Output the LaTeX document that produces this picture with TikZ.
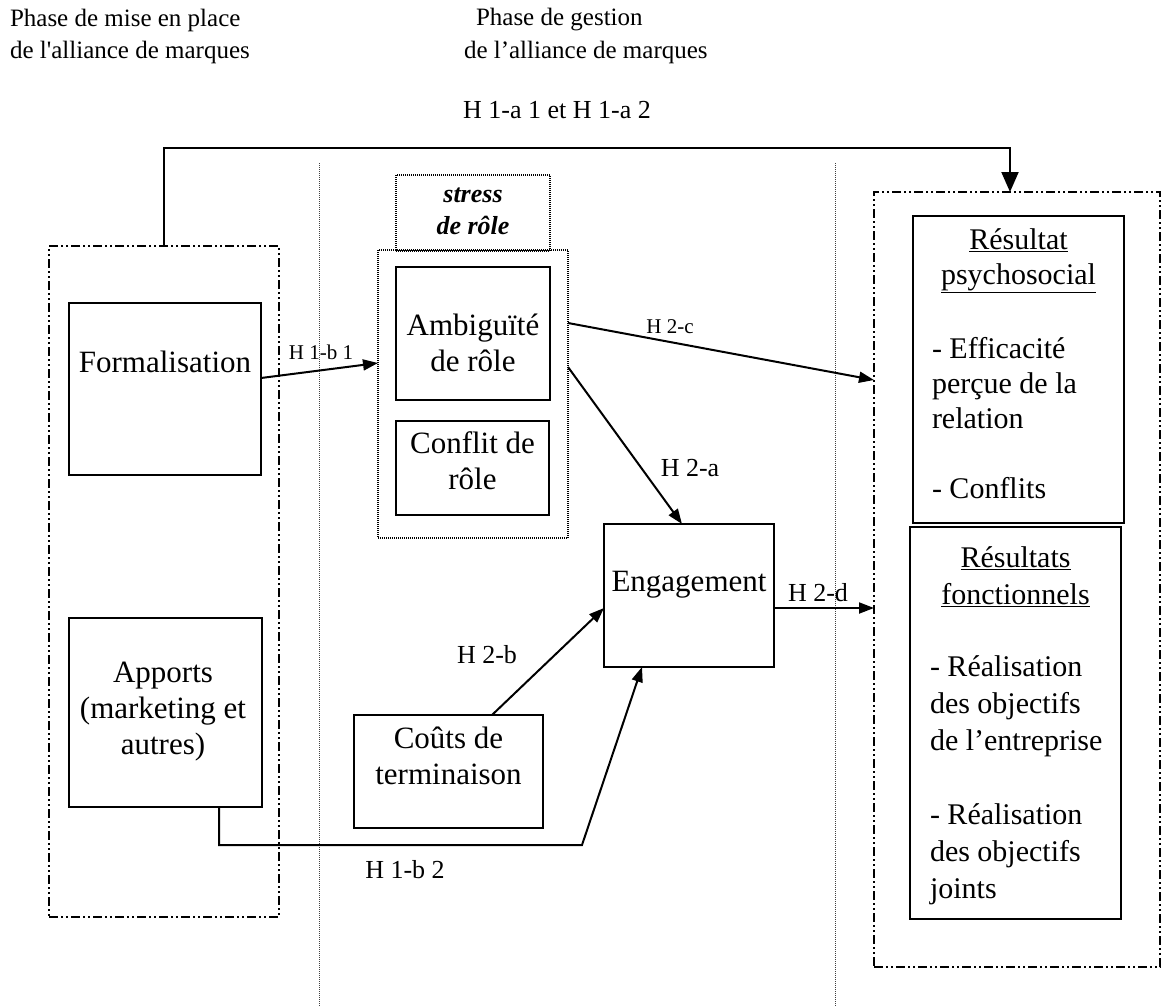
\documentclass[tikz,border=0pt]{standalone}
\usepackage{fontspec}
\setmainfont{Liberation Serif}
\usetikzlibrary{arrows.meta}

\begin{document}
\begin{tikzpicture}[x=1pt,y=-1pt,
  every node/.style={inner sep=0pt, outer sep=0pt},
  thickbox/.style={draw, rectangle, line width=2.6pt},
  thinbox/.style={draw, rectangle, line width=1.6pt},
  groupbox/.style={draw, rectangle, line width=2pt,
    dash pattern=on 9pt off 3pt on 2pt off 3pt on 2pt off 3pt},
  dotbox/.style={draw, rectangle, line width=1.1pt, dash pattern=on 1pt off 1pt},
  divider/.style={line width=1pt, dash pattern=on 1pt off 1pt, black!75},
  link/.style={line width=2pt, -{Triangle[length=15pt,width=11pt]}},
  bigarrow/.style={line width=2pt, -{Triangle[length=20pt,width=17pt]}},
  phasetxt/.style={font=\fontsize{25}{30}\selectfont},
  body/.style={font=\fontsize{31}{36}\selectfont, align=center},
  rbody/.style={font=\fontsize{30}{35}\selectfont},
  rbodyb/.style={font=\fontsize{30}{37}\selectfont},
  stresstxt/.style={font=\fontsize{26}{32}\selectfont\bfseries\itshape, align=center},
  lbl/.style={font=\fontsize{26}{30}\selectfont},
  smalllbl/.style={font=\fontsize{21}{24}\selectfont}
]
\useasboundingbox (0,0) rectangle (1168,1007);
\fill[white] (0,0) rectangle (1168,1007);

% phase headings
\node[phasetxt, anchor=west] (ph1a) at (10,20) {Phase de mise en place};
\node[phasetxt, anchor=west] (ph1b) at (10,52) {de l\textquotesingle alliance de marques};
\node[phasetxt, anchor=west] (ph2a) at (476,20) {Phase de gestion};
\node[phasetxt, anchor=west] (ph2b) at (464,52) {de l'alliance de marques};

% dotted phase dividers
\coordinate (d1top) at (319,163);
\coordinate (d1bot) at (319,1007);
\coordinate (d2top) at (835,163);
\coordinate (d2bot) at (835,1007);
\draw[divider] (d1top) -- (d1bot);
\draw[divider] (d2top) -- (d2bot);

% left group: set-up phase
\node[groupbox, minimum width=230pt, minimum height=671pt] (leftgrp) at (164,581.5) {};
\node[thickbox, minimum width=192pt, minimum height=172pt] (form) at (165,389) {};
\node[body] (formtxt) at (165,362) {Formalisation};
\node[thickbox, minimum width=193pt, minimum height=189pt] (apports) at (165.5,712.5) {};
\node[body] (apptxt) at (163,712) {Apports\\(marketing et\\autres)};

% role stress
\node[dotbox, minimum width=154pt, minimum height=76pt] (stress) at (473,213) {};
\node[stresstxt] (stresslbl) at (473,211) {stress\\de rôle};
\node[dotbox, minimum width=190pt, minimum height=288pt] (roles) at (473,394) {};
\node[thickbox, minimum width=154pt, minimum height=133pt] (ambig) at (473,333.5) {};
\node[body] (ambtxt) at (473,343) {Ambiguïté\\de rôle};
\node[thinbox, minimum width=153pt, minimum height=94pt] (conflit) at (472.5,468) {};
\node[body] (conftxt) at (472.5,461) {Conflit de\\rôle};

% engagement and termination costs
\node[thinbox, minimum width=170pt, minimum height=143pt] (eng) at (689,595.5) {};
\node[body] (engtxt) at (689,585) {Engagement};
\node[thickbox, minimum width=189pt, minimum height=113pt] (couts) at (448.5,771.5) {};
\node[body] (coutstxt) at (448.5,756) {Coûts de\\terminaison};

% right group: outcomes
\node[groupbox, minimum width=286pt, minimum height=775pt] (rightgrp) at (1017,579.5) {};
\node[thickbox, minimum width=211pt, minimum height=307pt] (res1) at (1018.5,369.5) {};
\node[rbody, align=center] (res1t) at (1018.5,261) {\underline{Résultat}\\\underline{psychosocial}};
\node[rbody, align=left, anchor=west] (res1a) at (932,383) {- Efficacité\\perçue de la\\relation};
\node[rbody, anchor=west] (res1b) at (932,488) {- Conflits};
\node[thickbox, minimum width=211pt, minimum height=392pt] (res2) at (1015.5,723) {};
\node[rbodyb, align=center] (res2t) at (1015.5,576.5) {\underline{Résultats}\\\underline{fonctionnels}};
\node[rbodyb, align=left, anchor=west] (res2a) at (930,706) {- Réalisation\\des objectifs\\de l'entreprise};
\node[rbodyb, align=left, anchor=west] (res2b) at (930,854) {- Réalisation\\des objectifs\\joints};

% hypotheses
\coordinate (topbend) at (600,148);
\draw[bigarrow] (leftgrp.north) |- (topbend) -| ([xshift=-7pt]rightgrp.north);
\node[lbl] (h1a) at (557,110) {H 1-a 1 et H 1-a 2};

\draw[link] ([yshift=11pt]form.east) -- ([yshift=31pt]roles.west);
\node[smalllbl] (h1b1) at (321,352) {H 1-b 1};

\draw[link] ([yshift=71pt]roles.east) -- ([yshift=199.5pt]rightgrp.west);
\node[smalllbl] (h2c) at (670,327) {H 2-c};

\draw[link] ([yshift=27pt]roles.east) -- ([xshift=-7pt]eng.north);
\node[lbl] (h2a) at (690,468) {H 2-a};

\draw[link] ([xshift=43.5pt]couts.north) -- ([yshift=-12.5pt]eng.west);
\node[lbl] (h2b) at (487,655) {H 2-b};

\draw[link] ([yshift=-12.5pt]eng.east) -- ([yshift=-28.5pt]rightgrp.west);
\node[lbl] (h2d) at (818,593) {H 2-d};

\coordinate (b2) at (582,845);
\draw[link] ([xshift=53.5pt]apports.south) |- (b2) -- ([xshift=-47pt]eng.south);
\node[lbl] (h1b2) at (405,870) {H 1-b 2};

\end{tikzpicture}
\end{document}
